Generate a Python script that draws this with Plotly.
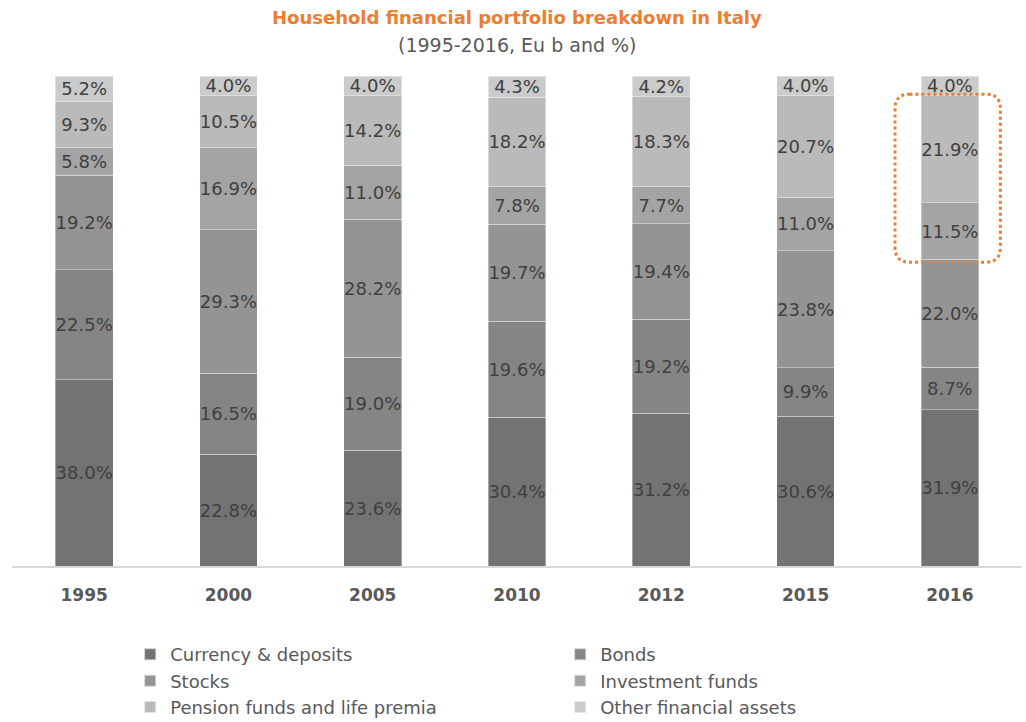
import plotly.graph_objects as go

years = ["1995", "2000", "2005", "2010", "2012", "2015", "2016"]
series_names = ["Currency & deposits", "Bonds", "Stocks", "Investment funds",
                "Pension funds and life premia", "Other financial assets"]
currency = [38.0, 22.8, 23.6, 30.4, 31.2, 30.6, 31.9]
bonds = [22.5, 16.5, 19.0, 19.6, 19.2, 9.9, 8.7]
stocks = [19.2, 29.3, 28.2, 19.7, 19.4, 23.8, 22.0]
inv_funds = [5.8, 16.9, 11.0, 7.8, 7.7, 11.0, 11.5]
pension = [9.3, 10.5, 14.2, 18.2, 18.3, 20.7, 21.9]
other = [5.2, 4.0, 4.0, 4.3, 4.2, 4.0, 4.0]

series_values = [currency, bonds, stocks, inv_funds, pension, other]
colors = ["#737373", "#858585", "#949494", "#a4a4a4", "#bababa", "#cbcbcb"]

FONT = "DejaVu Sans"

fig = go.Figure()
for name, vals, col in zip(series_names, series_values, colors):
    fig.add_trace(go.Bar(
        x=years, y=vals, name=name,
        marker=dict(color=col, line=dict(color="rgba(255,255,255,0.6)", width=0.6)),
        texttemplate="%{y:.1f}%", textposition="inside", insidetextanchor="middle",
        constraintext="none", textangle=0,
        textfont=dict(family=FONT, size=18, color="#404040"),
        hoverinfo="skip",
    ))

# highlight box around 2016 Investment funds + Pension funds
x0, x1 = 6 - 0.38, 6 + 0.35
y0, y1 = 62.0, 96.3
rx, ry = 0.1, 3.0
path = (f"M {x0+rx},{y1} L {x1-rx},{y1} Q {x1},{y1} {x1},{y1-ry} "
        f"L {x1},{y0+ry} Q {x1},{y0} {x1-rx},{y0} L {x0+rx},{y0} "
        f"Q {x0},{y0} {x0},{y0+ry} L {x0},{y1-ry} Q {x0},{y1} {x0+rx},{y1} Z")
fig.add_shape(type="path", path=path, xref="x", yref="y",
              line=dict(color="#ED7D31", width=3, dash="dot"),
              fillcolor="rgba(0,0,0,0)", layer="above")

fig.update_layout(
    width=1026, height=722,
    barmode="stack", bargap=0.6,
    plot_bgcolor="white", paper_bgcolor="white",
    margin=dict(l=12, r=4, t=76, b=156, autoexpand=False),
    showlegend=True,
    legend=dict(orientation="h", x=0.117, xanchor="left", y=-0.143, yanchor="top",
                traceorder="normal", entrywidth=385, entrywidthmode="pixels",
                font=dict(family=FONT, size=18, color="#595959"),
                itemsizing="constant", tracegroupgap=0),
    xaxis=dict(showgrid=False, showline=True, linecolor="#d9d9d9", linewidth=2,
               ticks="", ticklabelstandoff=13,
               tickfont=dict(family=FONT, size=17, color="#595959"),
               tickprefix="<b>", ticksuffix="</b>", fixedrange=True),
    yaxis=dict(range=[0, 100], visible=False, fixedrange=True),
)

def py(pix):
    return (566 - pix) / 490.0

fig.add_annotation(text="<b>Household financial portfolio breakdown in Italy</b>",
                   x=0.5, xref="paper", y=py(18), yref="paper", yanchor="middle",
                   showarrow=False, font=dict(family=FONT, size=18, color="#ED7D31"))
fig.add_annotation(text="(1995-2016, Eu b and %)",
                   x=0.5, xref="paper", y=py(45), yref="paper", yanchor="middle",
                   showarrow=False, font=dict(family=FONT, size=19, color="#595959"))

fig.write_html("out.html")
